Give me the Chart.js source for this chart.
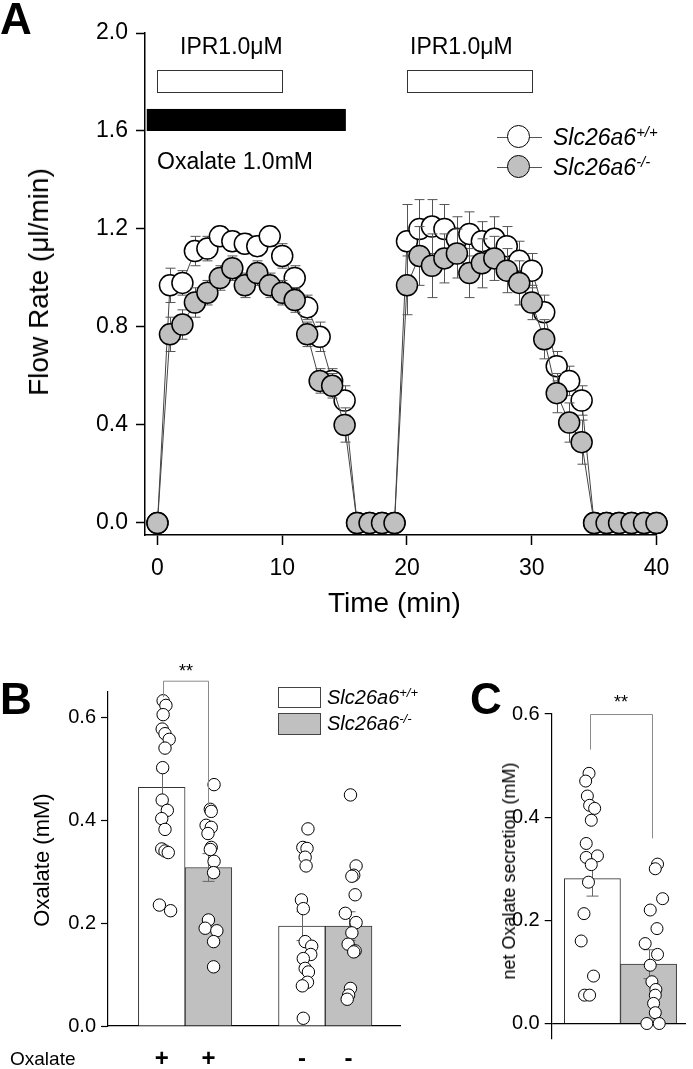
<!DOCTYPE html>
<html>
<head>
<meta charset="utf-8">
<script src="https://cdn.jsdelivr.net/npm/chart.js@4.4.1/dist/chart.umd.min.js"></script>
<style>
  body { margin: 0; background: #fff; width: 693px; height: 1069px; position: relative; overflow: hidden;
         font-family: Arial, "Liberation Sans", sans-serif; color: #000; }
  canvas { position: absolute; }
  .t { position: absolute; white-space: nowrap; line-height: 1; z-index: 2; }
  .rot { position: absolute; white-space: nowrap; line-height: 1; transform: translate(-50%, -50%) rotate(-90deg); z-index: 2; }
  .panel { font-weight: bold; font-size: 44px; }
  .it { font-style: italic; }
  sup { font-size: 0.65em; vertical-align: 0.55em; line-height: 0; }
  .mk { position: absolute; z-index: 2; }
</style>
</head>
<body>
<canvas id="chartA" width="693" height="620" style="left:0;top:0"></canvas>
<canvas id="chartB" width="450" height="430" style="left:0;top:640px"></canvas>
<canvas id="chartC" width="233" height="430" style="left:460px;top:640px"></canvas>

<div class="t panel" style="left:0;top:-3px">A</div>
<div class="t panel" style="left:0;top:677px">B</div>
<div class="t panel" style="left:470px;top:677px">C</div>

<div class="t" style="left:180px;top:35px;font-size:23px">IPR1.0μM</div>
<div class="t" style="left:410px;top:35px;font-size:23px">IPR1.0μM</div>
<div class="t" style="left:157px;top:150px;font-size:23px">Oxalate 1.0mM</div>

<div class="mk" style="left:497px;top:136.5px;width:45px;height:1px;background:#555"></div>
<div class="mk" style="left:507px;top:125px;width:21px;height:21px;border:1.5px solid #000;border-radius:50%;background:#fff"></div>
<div class="mk" style="left:497px;top:166.5px;width:45px;height:1px;background:#555"></div>
<div class="mk" style="left:507px;top:155px;width:21px;height:21px;border:1.5px solid #000;border-radius:50%;background:#c0c0c0"></div>
<div class="t it" style="left:553px;top:126px;font-size:23px">Slc26a6<sup>+/+</sup></div>
<div class="t it" style="left:553px;top:156px;font-size:23px">Slc26a6<sup>-/-</sup></div>

<div class="rot" style="left:39px;top:282px;font-size:28px">Flow Rate (μl/min)</div>
<div class="t" style="left:328px;top:589px;font-size:28px">Time (min)</div>

<div class="mk" style="left:278px;top:687px;width:41px;height:19px;border:1px solid #444;background:#fff"></div>
<div class="mk" style="left:278px;top:713px;width:41px;height:20px;border:1px solid #444;background:#c0c0c0"></div>
<div class="t it" style="left:327px;top:687px;font-size:20px">Slc26a6<sup>+/+</sup></div>
<div class="t it" style="left:327px;top:713px;font-size:20px">Slc26a6<sup>-/-</sup></div>

<div class="rot" style="left:42px;top:860px;font-size:22px">Oxalate (mM)</div>
<div class="rot" style="left:509px;top:871px;font-size:18px">net Oxalate secretion (mM)</div>
<div class="t" style="left:10px;top:1049px;font-size:19px">Oxalate</div>
<div class="t" style="left:179px;top:662px;font-size:18px">**</div>
<div class="t" style="left:614px;top:693px;font-size:18px">**</div>

<script>
// ---- Panel A: flow rate time course ----
const timeMin = [0, 1, 2, 3, 4, 5, 6, 7, 8, 9, 10, 11, 12, 13, 14, 15, 16, 17, 18, 19, 20,
                 21, 22, 23, 24, 25, 26, 27, 28, 29, 30, 31, 32, 33, 34, 35, 36, 37, 38, 39, 40];
const wtFlow = [0, 0.97, 0.98, 1.11, 1.12, 1.17, 1.15, 1.14, 1.13, 1.17, 1.09, 1.00, 0.88, 0.76, 0.58, 0.50,
                0, 0, 0, 0, 1.15, 1.20, 1.21, 1.20, 1.16, 1.18, 1.15, 1.16, 1.13, 1.07, 1.03, 0.86, 0.64, 0.58, 0.50,
                0, 0, 0, 0, 0, 0];
const wtErr = [0, 0.07, 0.05, 0.06, 0.05, 0.04, 0.04, 0.04, 0.04, 0.04, 0.05, 0.05, 0.05, 0.06, 0.05, 0.06,
               0.02, 0, 0, 0, 0.15, 0.12, 0.11, 0.10, 0.09, 0.09, 0.08, 0.09, 0.08, 0.08, 0.07, 0.07, 0.06, 0.06, 0.06,
               0.01, 0, 0, 0, 0, 0];
const koFlow = [0, 0.77, 0.81, 0.90, 0.94, 1.00, 1.04, 0.97, 1.02, 0.97, 0.94, 0.91, 0.77, 0.58, 0.56, 0.40,
                0, 0, 0, 0, 0.97, 1.09, 1.05, 1.08, 1.10, 1.02, 1.06, 1.08, 1.03, 0.98, 0.90, 0.75, 0.53, 0.41, 0.33,
                0, 0, 0, 0, 0, 0];
const koErr = [0, 0.07, 0.06, 0.06, 0.05, 0.05, 0.05, 0.05, 0.05, 0.05, 0.05, 0.05, 0.05, 0.05, 0.05, 0.07,
               0.03, 0, 0, 0, 0.12, 0.12, 0.13, 0.10, 0.10, 0.10, 0.10, 0.09, 0.09, 0.09, 0.07, 0.08, 0.08, 0.08, 0.09,
               0.02, 0, 0, 0, 0, 0];
const xTicksA = [0, 10, 20, 30, 40];
const yTicksA = [0, 0.4, 0.8, 1.2, 1.6, 2.0];
const iprSpans = [[0, 10], [20, 30]];
const iprLevel = [1.76, 1.85];
const oxalateSpan = [-0.86, 15.1];
const oxalateLevel = [1.60, 1.69];

// ---- Panel B: oxalate concentration ----
const bBarX = [1, 2, 4, 5];
const bBarMean = [0.464, 0.308, 0.194, 0.194];
const bBarSem = [0.032, 0.027, 0.028, 0.028];
const bXLabels = ['+', '+', '-', '-'];
const bYTicks = [0, 0.2, 0.4, 0.6];
const bWtOxX = [1.03, 1.09, 1.03, 1.01, 1.07, 1.16, 1.07, 1.02, 1.01, 1.12, 1.00, 1.07, 1.00, 1.07, 1.14, 0.95, 1.19];
const bWtOxY = [0.632, 0.623, 0.605, 0.577, 0.568, 0.557, 0.540, 0.502, 0.439, 0.419, 0.403, 0.382, 0.344, 0.340, 0.337, 0.235, 0.224];
const bKoOxX = [2.12, 2.04, 2.06, 1.95, 2.06, 1.99, 2.06, 2.04, 2.12, 2.11, 2.00, 1.93, 2.18, 2.11, 2.11];
const bKoOxY = [0.469, 0.421, 0.417, 0.390, 0.386, 0.374, 0.347, 0.343, 0.320, 0.298, 0.206, 0.190, 0.185, 0.164, 0.115];
const bWtNoX = [4.13, 4.02, 4.11, 4.07, 4.09, 3.99, 4.03, 4.07, 4.21, 4.19, 4.03, 4.07, 4.14, 4.12, 4.01, 4.03];
const bWtNoY = [0.383, 0.347, 0.345, 0.328, 0.311, 0.245, 0.228, 0.164, 0.155, 0.139, 0.131, 0.112, 0.105, 0.085, 0.078, 0.015];
const bKoNoX = [5.04, 5.16, 5.11, 5.07, 5.14, 4.93, 5.16, 5.07, 4.99, 5.14, 5.11, 5.04, 5.00, 4.97];
const bKoNoY = [0.449, 0.311, 0.293, 0.291, 0.255, 0.219, 0.201, 0.181, 0.159, 0.146, 0.144, 0.073, 0.060, 0.052];
const bBracketX = [1.02, 2.0];
const bBracketY = [0.639, 0.670, 0.670, 0.426];

// ---- Panel C: net oxalate secretion ----
const cBarX = [1, 2];
const cBarMean = [0.281, 0.115];
const cBarSem = [0.034, 0.028];
const cYTicks = [0, 0.2, 0.4, 0.6];
const cWtX = [0.94, 0.88, 0.91, 0.95, 1.04, 0.98, 0.89, 0.89, 1.09, 0.98, 0.93, 0.85, 0.80, 1.02, 0.86, 0.95];
const cWtY = [0.485, 0.470, 0.441, 0.423, 0.417, 0.394, 0.349, 0.322, 0.325, 0.308, 0.274, 0.213, 0.160, 0.092, 0.055, 0.055];
const cKoX = [2.16, 2.12, 2.25, 2.03, 2.15, 1.94, 2.16, 2.03, 2.06, 2.13, 2.12, 2.09, 2.12, 1.97, 2.19];
const cKoY = [0.309, 0.300, 0.242, 0.220, 0.184, 0.155, 0.134, 0.113, 0.081, 0.066, 0.055, 0.039, 0.021, 0.0, 0.0];
const cBracketX = [0.95, 2.07];
const cBracketY = [0.531, 0.599, 0.599, 0.359];

const FONT = 'Arial, "Liberation Sans", sans-serif';
const GRAY = '#c0c0c0';

function pairs(xs, ys) {
  return xs.map((x, i) => ({ x: x, y: ys[i] }));
}

function drawErrors(chart, args, layer) {
  const ds = chart.data.datasets[args.index];
  if (!ds.errors || ds.errorLayer !== layer) return;
  const ctx = chart.ctx;
  const y = chart.scales.y;
  ctx.save();
  ctx.strokeStyle = ds.errorColor;
  ctx.lineWidth = 1;
  args.meta.data.forEach((el, i) => {
    const e = ds.errors[i];
    if (!e) return;
    const v = ds.data[i].y;
    const px = Math.round(el.x) + 0.5;
    const y1 = y.getPixelForValue(v + e);
    const y2 = y.getPixelForValue(v - e);
    const w = ds.capHalf;
    ctx.beginPath();
    ctx.moveTo(px, y1); ctx.lineTo(px, y2);
    ctx.moveTo(px - w, y1); ctx.lineTo(px + w, y1);
    ctx.moveTo(px - w, y2); ctx.lineTo(px + w, y2);
    ctx.stroke();
  });
  ctx.restore();
}

const errorBars = {
  id: 'errorBars',
  beforeDatasetDraw(chart, args) { drawErrors(chart, args, 'before'); },
  afterDatasetDraw(chart, args) { drawErrors(chart, args, 'after'); }
};

// treatment bars above the traces
const stimBars = {
  id: 'stimBars',
  beforeDatasetsDraw(chart) {
    const { ctx, scales: { x, y } } = chart;
    ctx.save();
    ctx.fillStyle = '#000';
    const ox0 = x.getPixelForValue(oxalateSpan[0]), ox1 = x.getPixelForValue(oxalateSpan[1]);
    const oy0 = y.getPixelForValue(oxalateLevel[1]), oy1 = y.getPixelForValue(oxalateLevel[0]);
    ctx.fillRect(ox0, oy0, ox1 - ox0, oy1 - oy0);
    ctx.strokeStyle = '#333';
    ctx.lineWidth = 1;
    iprSpans.forEach(([a, b]) => {
      const x0 = Math.round(x.getPixelForValue(a)) + 0.5, x1 = Math.round(x.getPixelForValue(b)) + 0.5;
      const y0 = Math.round(y.getPixelForValue(iprLevel[1])) + 0.5, y1 = Math.round(y.getPixelForValue(iprLevel[0])) + 0.5;
      ctx.fillStyle = '#fff';
      ctx.fillRect(x0, y0, x1 - x0, y1 - y0);
      ctx.strokeRect(x0, y0, x1 - x0, y1 - y0);
    });
    ctx.restore();
  }
};

// significance bracket
const bracket = {
  id: 'bracket',
  afterDatasetsDraw(chart, args, opts) {
    const { ctx, scales: { x, y } } = chart;
    const xl = Math.round(x.getPixelForValue(opts.xs[0])) + 0.5;
    const xr = Math.round(x.getPixelForValue(opts.xs[1])) + 0.5;
    ctx.save();
    ctx.strokeStyle = '#8a8a8a';
    ctx.lineWidth = 1;
    ctx.beginPath();
    ctx.moveTo(xl, y.getPixelForValue(opts.ys[0]));
    ctx.lineTo(xl, y.getPixelForValue(opts.ys[1]));
    ctx.lineTo(xr, y.getPixelForValue(opts.ys[2]));
    ctx.lineTo(xr, y.getPixelForValue(opts.ys[3]));
    ctx.stroke();
    ctx.restore();
  }
};

const base = {
  responsive: false,
  animation: false,
  devicePixelRatio: 1,
  events: []
};

function setTicks(list) {
  return (scale) => { scale.ticks = list.map(v => ({ value: v })); };
}

// ---- chart A ----
new Chart(document.getElementById('chartA'), {
  type: 'line',
  data: {
    datasets: [
      {
        label: 'Slc26a6+/+',
        data: pairs(timeMin, wtFlow),
        errors: wtErr, errorLayer: 'before', errorColor: '#555', capHalf: 5,
        order: 2,
        borderColor: '#444', borderWidth: 1,
        pointRadius: 10.5, pointBorderWidth: 1.5, pointBorderColor: '#000', pointBackgroundColor: '#fff',
        clip: false
      },
      {
        label: 'Slc26a6-/-',
        data: pairs(timeMin, koFlow),
        errors: koErr, errorLayer: 'before', errorColor: '#555', capHalf: 5,
        order: 1,
        borderColor: '#444', borderWidth: 1,
        pointRadius: 10.5, pointBorderWidth: 1.5, pointBorderColor: '#000', pointBackgroundColor: GRAY,
        clip: false
      }
    ]
  },
  options: {
    ...base,
    layout: { padding: { left: 0, top: 33, right: 36.5, bottom: 0 } },
    plugins: { legend: { display: false }, tooltip: { enabled: false } },
    scales: {
      x: {
        type: 'linear', min: -1, max: 40,
        afterBuildTicks: setTicks(xTicksA),
        afterFit: (s) => { s.height = 85; },
        grid: { drawOnChartArea: false, tickLength: 10, tickColor: '#000', tickWidth: 1.5 },
        border: { color: '#000', width: 1.5 },
        ticks: { color: '#000', font: { family: FONT, size: 23 }, padding: 10, maxRotation: 0, autoSkip: false }
      },
      y: {
        min: -0.049, max: 2.0,
        afterBuildTicks: setTicks(yTicksA),
        afterFit: (s) => { s.width = 145; },
        grid: { drawOnChartArea: false, tickLength: 9, tickColor: '#000', tickWidth: 1.5 },
        border: { color: '#000', width: 1.5 },
        ticks: { color: '#000', font: { family: FONT, size: 23 }, padding: 8, callback: (v) => v.toFixed(1) }
      }
    }
  },
  plugins: [errorBars, stimBars]
});

// ---- chart B ----
new Chart(document.getElementById('chartB'), {
  type: 'bar',
  data: {
    datasets: [
      { type: 'scatter', data: pairs(bWtOxX, bWtOxY), order: 0 },
      { type: 'scatter', data: pairs(bKoOxX, bKoOxY), order: 0 },
      { type: 'scatter', data: pairs(bWtNoX, bWtNoY), order: 0 },
      { type: 'scatter', data: pairs(bKoNoX, bKoNoY), order: 0 },
      {
        type: 'bar',
        data: pairs(bBarX, bBarMean),
        errors: bBarSem, errorLayer: 'after', errorColor: '#666', capHalf: 6,
        order: 1,
        backgroundColor: ['#fff', GRAY, '#fff', GRAY],
        borderColor: '#333', borderWidth: 1,
        categoryPercentage: 1, barPercentage: 1
      }
    ]
  },
  options: {
    ...base,
    layout: { padding: { left: 0, top: 52, right: 50, bottom: 0 } },
    elements: { point: { radius: 6.2, borderWidth: 1, borderColor: '#000', backgroundColor: '#fff' } },
    datasets: { scatter: { clip: false } },
    plugins: { legend: { display: false }, tooltip: { enabled: false }, bracket: { xs: bBracketX, ys: bBracketY } },
    scales: {
      x: {
        type: 'linear', min: -0.15, max: 6.1, offset: false,
        afterBuildTicks: setTicks(bBarX),
        afterFit: (s) => { s.height = 44; },
        grid: { display: false, drawTicks: false },
        border: { color: '#000', width: 1.2 },
        ticks: { color: '#000', font: { family: FONT, size: 24, weight: 'bold' }, padding: 19, maxRotation: 0, autoSkip: false,
                 callback: (v, i) => bXLabels[i] }
      },
      y: {
        min: 0, max: 0.649,
        afterBuildTicks: setTicks(bYTicks),
        afterFit: (s) => { s.width = 108; },
        grid: { drawOnChartArea: false, tickLength: 7, tickColor: '#000', tickWidth: 1.2 },
        border: { color: '#000', width: 1.2 },
        ticks: { color: '#000', font: { family: FONT, size: 20 }, padding: 5, callback: (v) => v.toFixed(1) }
      }
    }
  },
  plugins: [errorBars, bracket]
});

// ---- chart C ----
new Chart(document.getElementById('chartC'), {
  type: 'bar',
  data: {
    datasets: [
      { type: 'scatter', data: pairs(cWtX, cWtY), order: 0 },
      { type: 'scatter', data: pairs(cKoX, cKoY), order: 0 },
      {
        type: 'bar',
        data: pairs(cBarX, cBarMean),
        errors: cBarSem, errorLayer: 'after', errorColor: '#666', capHalf: 6,
        order: 1,
        backgroundColor: ['#fff', GRAY],
        borderColor: '#333', borderWidth: 1,
        categoryPercentage: 1, barPercentage: 1
      }
    ]
  },
  options: {
    ...base,
    layout: { padding: { left: 0, top: 74, right: 5, bottom: 31 } },
    elements: { point: { radius: 6, borderWidth: 1, borderColor: '#000', backgroundColor: '#fff' } },
    datasets: { scatter: { clip: false } },
    plugins: { legend: { display: false }, tooltip: { enabled: false }, bracket: { xs: cBracketX, ys: cBracketY } },
    scales: {
      x: {
        type: 'linear', min: 0.275, max: 2.667, offset: false, display: false,
        afterBuildTicks: setTicks(cBarX)
      },
      y: {
        min: -0.03, max: 0.6,
        afterBuildTicks: setTicks(cYTicks),
        afterFit: (s) => { s.width = 91.7; },
        grid: {
          drawOnChartArea: true, tickLength: 7, tickColor: '#000', tickWidth: 1.2,
          color: (c) => (c.tick && c.tick.value === 0 ? '#000' : 'rgba(0,0,0,0)'),
          lineWidth: 1.2
        },
        border: { color: '#000', width: 1.2 },
        ticks: { color: '#000', font: { family: FONT, size: 20 }, padding: 5, callback: (v) => v.toFixed(1) }
      }
    }
  },
  plugins: [errorBars, bracket]
});
</script>
</body>
</html>
